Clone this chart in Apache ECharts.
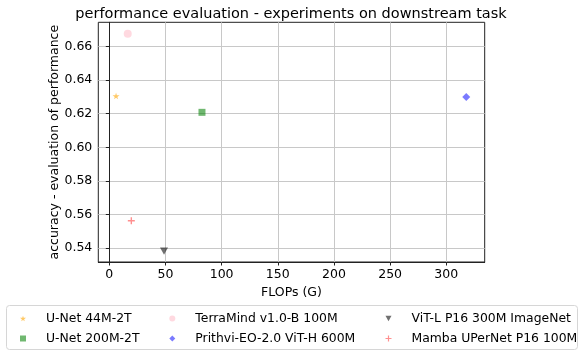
<!DOCTYPE html>
<html>
<head>
<meta charset="utf-8">
<script src="https://cdn.jsdelivr.net/npm/echarts@6/dist/echarts.min.js"></script>
<style>
html,body{margin:0;padding:0;background:#fff;}
#chart{width:582px;height:350px;}
</style>
</head>
<body>
<div id="chart"></div>
<script>
// ---- data ----
const models = ['U-Net 44M-2T', 'U-Net 200M-2T', 'TerraMind v1.0-B 100M', 'Prithvi-EO-2.0 ViT-H 600M', 'ViT-L P16 300M ImageNet', 'Mamba UPerNet P16 100M'];
const flops = [6.0, 82.5, 16.4, 317.8, 48.7, 19.6];
const accuracy = [0.6305, 0.6208, 0.6676, 0.6299, 0.5382, 0.5563];
const xTicks = [0, 50, 100, 150, 200, 250, 300];
const yTicks = [0.54, 0.56, 0.58, 0.60, 0.62, 0.64, 0.66];
const titleText = 'performance evaluation - experiments on downstream task';
const xName = 'FLOPs (G)';
const yName = 'accuracy - evaluation of performance';

// ---- styles ----
const STAR = 'path://M50,0 L61,35 L98,35 L68,57 L79,91 L50,70 L21,91 L32,57 L2,35 L39,35 Z';
const PLUS = 'path://M4,0 H6 V4 H10 V6 H6 V10 H4 V6 H0 V4 H4 Z';
const TRI_DOWN = 'path://M0,0 L10,0 L5,9 Z';
const symbols = [STAR, 'rect', 'circle', 'diamond', TRI_DOWN, PLUS];
const sizes = [7, 7, 8, 8, 8, 7];
const colors = ['rgba(255,165,0,0.75)', 'rgba(0,128,0,0.7)', 'rgba(255,192,203,0.75)', 'rgba(0,0,255,0.65)', 'rgba(0,0,0,0.7)', 'rgba(255,0,0,0.55)'];
const FONT = 'DejaVu Sans';

const series = models.map((m, i) => ({
  name: m,
  type: 'scatter',
  data: [[flops[i], accuracy[i]]],
  symbol: symbols[i],
  symbolSize: sizes[i],
  symbolKeepAspect: true,
  itemStyle: { color: colors[i] },
  emphasis: { disabled: true },
  z: 5
}));

const legendCols = [[0, 1], [2, 3], [4, 5]];
const legendLefts = [20, 169.3, 385.5];
const legends = legendCols.map((idx, c) => ({
  orient: 'vertical',
  left: legendLefts[c],
  top: 312.5,
  padding: 0,
  itemWidth: 6,
  itemHeight: 6,
  itemGap: 8,
  selectedMode: false,
  data: idx.map(i => ({ name: models[i], icon: symbols[i] })),
  textStyle: { fontFamily: FONT, fontSize: 12.4, color: '#000', padding: [0, 0, 0, 15] }
}));

const chart = echarts.init(document.getElementById('chart'), null, { renderer: 'canvas' });
chart.setOption({
  animation: false,
  backgroundColor: '#fff',
  title: {
    text: titleText,
    left: 'center',
    top: 2,
    textStyle: { fontFamily: FONT, fontSize: 14.5, fontWeight: 'normal', color: '#000' }
  },
  grid: {
    left: 98.3, top: 22.3, width: 386.4, height: 239.7,
    show: true, borderColor: '#222', borderWidth: 1, backgroundColor: 'transparent'
  },
  graphic: [{
    type: 'rect', z: -10,
    shape: { x: 6.5, y: 305.5, width: 571, height: 44, r: 3 },
    style: { fill: '#fff', stroke: '#d6d6d6', lineWidth: 1 }
  }],
  legend: legends,
  xAxis: {
    type: 'value',
    min: -9.8, max: 334.2,
    name: xName, nameLocation: 'middle', nameGap: 21,
    nameTextStyle: { fontFamily: FONT, fontSize: 12.5, color: '#000' },
    axisLine: { show: true, onZero: false, lineStyle: { color: '#222', width: 1 } },
    axisTick: { show: true, length: 3.5, customValues: xTicks, lineStyle: { color: '#222' } },
    axisLabel: { customValues: xTicks, margin: 6, fontFamily: FONT, fontSize: 12.5, color: '#000' },
    splitLine: { show: true, lineStyle: { color: '#c8c8c8', width: 1 } }
  },
  yAxis: {
    type: 'value',
    min: 0.5317, max: 0.6744,
    name: yName, nameLocation: 'middle', nameGap: 37, nameMoveOverlap: false,
    nameTextStyle: { fontFamily: FONT, fontSize: 12.5, color: '#000' },
    axisLine: { show: true, lineStyle: { color: '#222', width: 1 } },
    axisTick: { show: true, length: 3.5, customValues: yTicks, lineStyle: { color: '#222' } },
    axisLabel: { customValues: yTicks, margin: 6, fontFamily: FONT, fontSize: 12.5, color: '#000',
      formatter: v => v.toFixed(2) },
    splitLine: { show: true, lineStyle: { color: '#c8c8c8', width: 1 } }
  },
  series: series
});
</script>
</body>
</html>
